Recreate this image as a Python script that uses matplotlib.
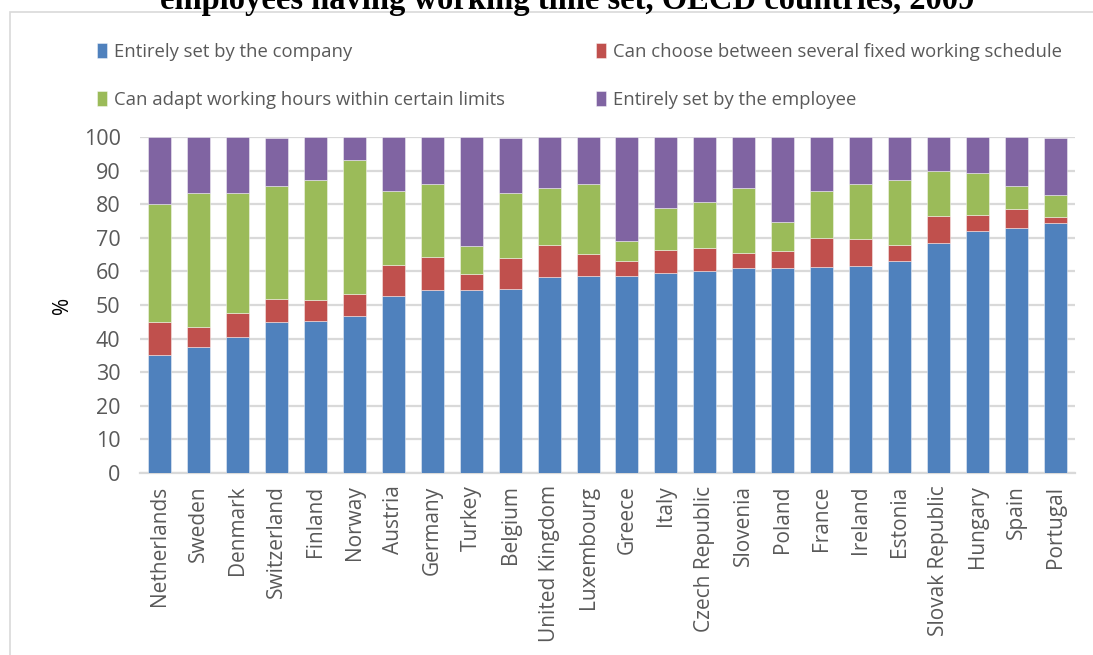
import numpy as np
import matplotlib
matplotlib.use("Agg")
import matplotlib.pyplot as plt
from matplotlib.patches import Rectangle

plt.rcParams['font.family'] = ['Open Sans', 'DejaVu Sans']

countries = ["Netherlands", "Sweden", "Denmark", "Switzerland", "Finland", "Norway",
             "Austria", "Germany", "Turkey", "Belgium", "United Kingdom", "Luxembourg",
             "Greece", "Italy", "Czech Republic", "Slovenia", "Poland", "France",
             "Ireland", "Estonia", "Slovak Republic", "Hungary", "Spain", "Portugal"]

company = [35.0, 37.6, 40.4, 44.9, 45.2, 46.6, 52.6, 54.6, 54.6, 54.9, 58.2, 58.6,
           58.6, 59.4, 60.0, 61.1, 61.1, 61.3, 61.5, 63.2, 68.4, 72.1, 72.8, 74.3]
choose = [10.0, 5.8, 7.2, 7.0, 6.2, 6.7, 9.4, 9.6, 4.7, 9.1, 9.8, 6.6,
          4.6, 7.1, 6.9, 4.4, 5.0, 8.7, 8.2, 4.6, 8.2, 4.7, 5.7, 2.0]
adapt = [35.0, 40.0, 35.6, 33.6, 35.9, 40.0, 21.8, 21.7, 8.4, 19.4, 16.7, 20.7,
         5.7, 12.3, 13.9, 19.2, 8.6, 14.0, 16.2, 19.5, 13.4, 12.5, 7.0, 6.5]
employee = [20.0, 16.6, 16.8, 14.3, 12.7, 6.7, 16.2, 14.1, 32.3, 16.4, 15.3, 14.1,
            31.1, 21.2, 19.2, 15.3, 25.3, 16.0, 14.1, 12.7, 10.0, 10.7, 14.5, 17.0]

series_names = ["Entirely set by the company",
                "Can choose between several fixed working schedule",
                "Can adapt working hours within certain limits",
                "Entirely set by the employee"]
colors = ["#4F81BD", "#C0504D", "#9BBB59", "#8064A2"]

W, H = 1093, 655
fig = plt.figure(figsize=(W / 100, H / 100), dpi=100)
ax = fig.add_axes([140 / W, 1 - 473 / H, 935 / W, 336 / H])

x = np.arange(len(countries))
bottom = np.zeros(len(countries))
bars = []
for vals, name, c in zip([company, choose, adapt, employee], series_names, colors):
    b = ax.bar(x, vals, width=0.59, bottom=bottom, color=c, label=name,
               edgecolor=(1, 1, 1, 0.5), linewidth=0.6, zorder=3)
    bars.append(b)
    bottom += np.array(vals)

ax.set_xlim(-0.5, len(countries) - 0.5)
ax.set_ylim(0, 100)
ax.set_yticks(np.arange(0, 101, 10))
ax.yaxis.grid(True, color="#d9d9d9", linewidth=1.6, zorder=0)
ax.set_axisbelow(True)
for s in ["top", "right", "left"]:
    ax.spines[s].set_visible(False)
ax.spines["bottom"].set_color("#d9d9d9")
ax.spines["bottom"].set_linewidth(1.6)

ax.set_xticks(x)
ax.set_xticklabels(countries, rotation=90)
ax.tick_params(axis="both", length=0, colors="#595959")
ax.tick_params(axis="y", pad=14, labelsize=15.5)
ax.tick_params(axis="x", pad=9, labelsize=15)
ax.set_ylabel("%", fontsize=15, color="#000000")
ax.yaxis.set_label_coords(-0.072, 0.5)

# legend in Excel row order
handles = [bars[0], bars[2], bars[1], bars[3]]
labels = [series_names[0], series_names[2], series_names[1], series_names[3]]
fig.legend(handles, labels, ncol=2, loc="upper left",
           bbox_to_anchor=(80 / W, 1 - 26 / H), frameon=False,
           fontsize=13.3, labelcolor="#595959", handlelength=0.55,
           handleheight=0.85, handletextpad=0.4, labelspacing=1.62,
           columnspacing=4.9)

# chart frame and clipped title
fig.patches.append(Rectangle((10 / W, -0.05), 1.1, 1 - 12 / H + 0.05,
                             transform=fig.transFigure, fill=False,
                             edgecolor="#d9d9d9", linewidth=1.2))
fig.text(567 / W, 1 - 9 / H, "employees having working time set, OECD countries, 2009",
         ha="center", va="baseline", fontsize=23.5, fontweight="bold",
         family="Liberation Serif")

fig.savefig("out.png", dpi=100)
